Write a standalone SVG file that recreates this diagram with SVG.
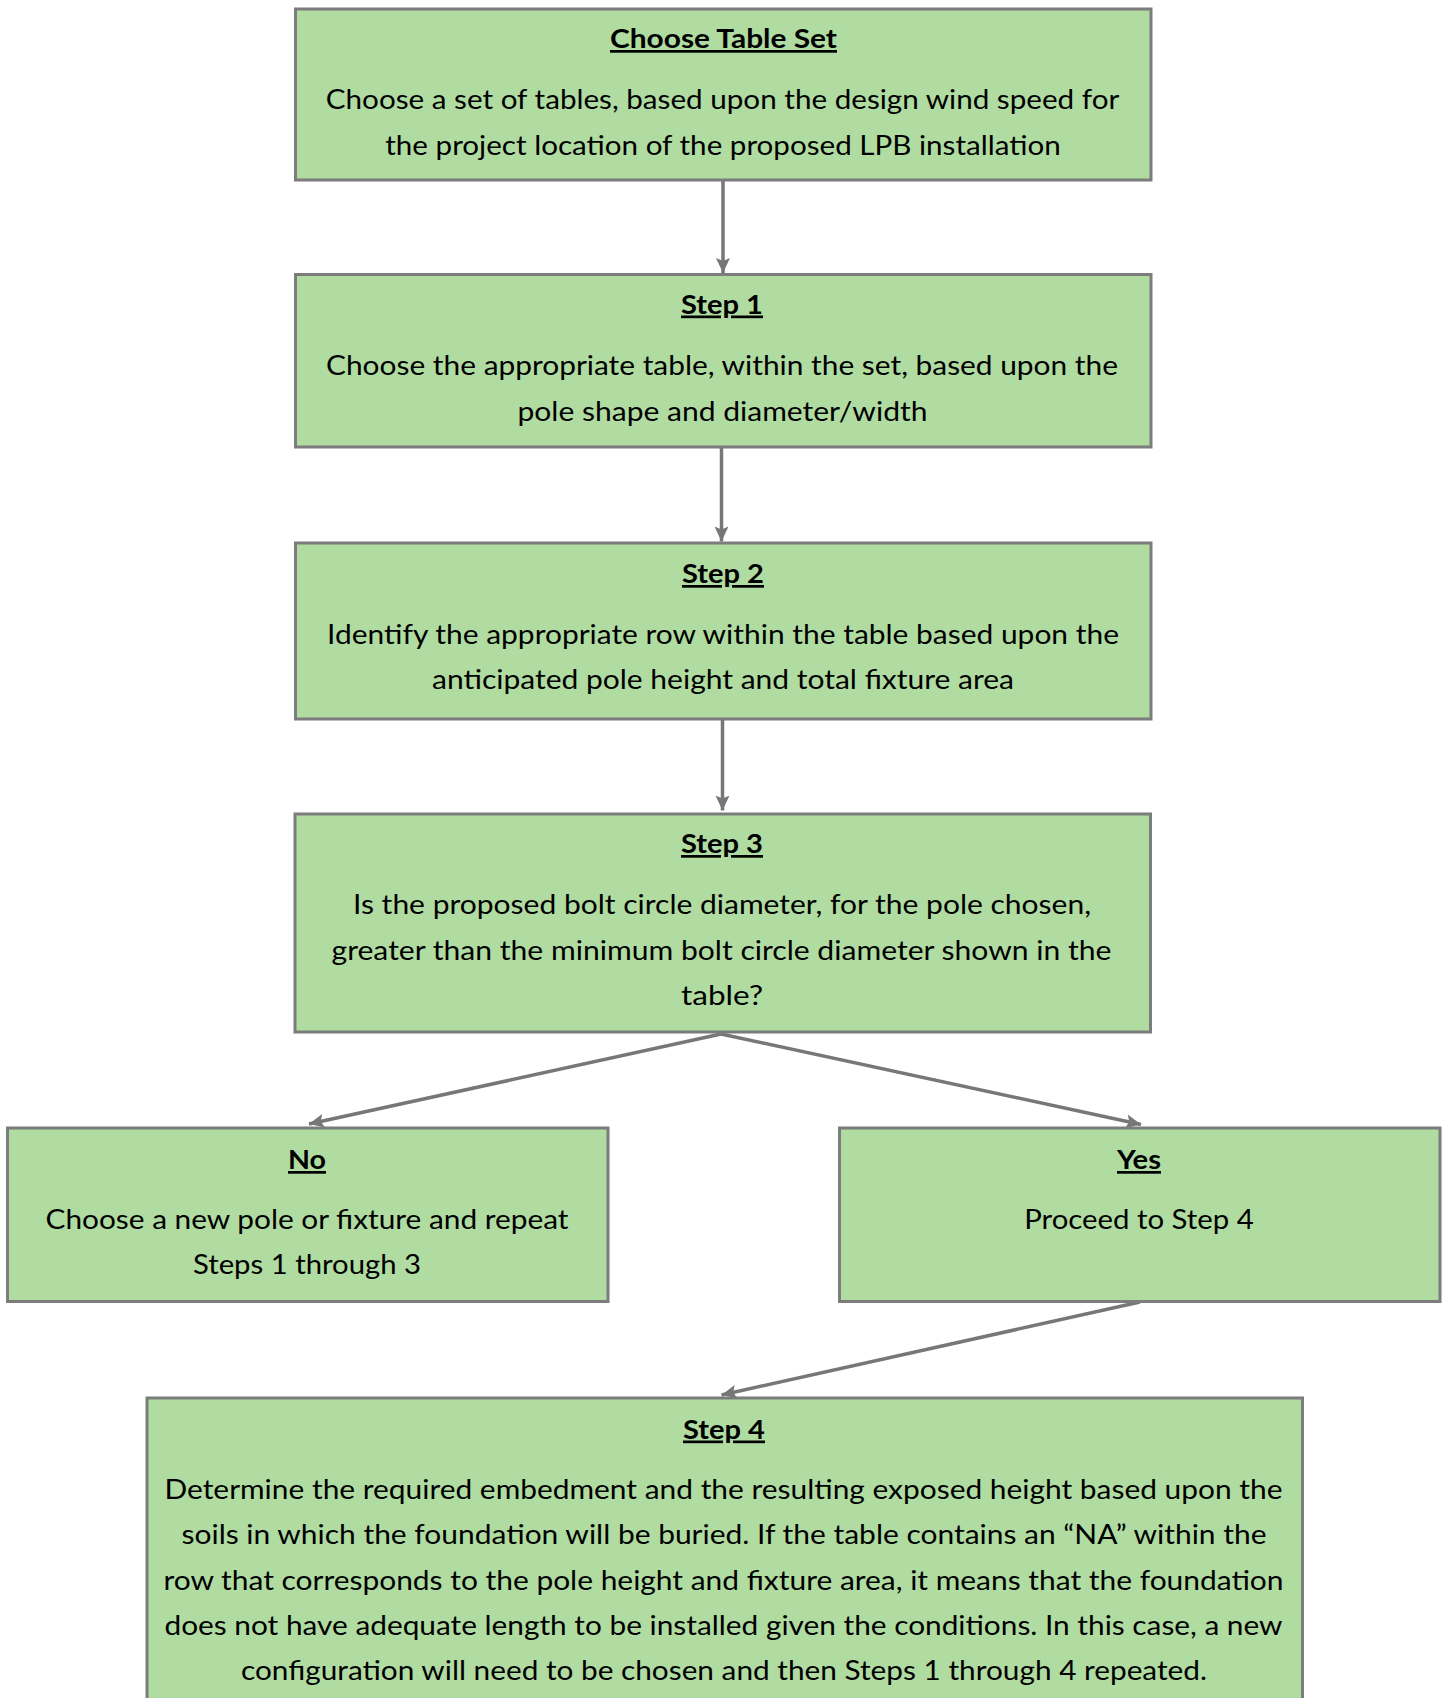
<svg xmlns="http://www.w3.org/2000/svg" width="1443" height="1698" viewBox="0 0 1443 1698">
<style>
.box{fill:#b0dca2;stroke:#7c7c7c;stroke-width:3}
.t{font-family:Lato,"Liberation Sans",sans-serif;font-size:27px;fill:#000;text-anchor:middle}
.h{font-weight:bold;text-decoration:underline}
.c{stroke:#777;stroke-width:3.5;fill:none;marker-end:url(#ah)}
</style>
<defs>
<marker id="ah" markerUnits="userSpaceOnUse" markerWidth="16" markerHeight="16" viewBox="0 0 16 16" refX="15" refY="8" orient="auto">
<path d="M0,1 L15,8 L0,15 L3,8 z" fill="#777"/>
</marker>
</defs>
<rect width="1443" height="1698" fill="#fff"/>
<g id="connectors">
<line class="c" x1="723" y1="180" x2="723" y2="273"/>
<line class="c" x1="721.5" y1="447" x2="721.5" y2="541.5"/>
<line class="c" x1="722.5" y1="719" x2="722.5" y2="810.5"/>
<line class="c" x1="721" y1="1034" x2="309" y2="1124"/>
<line class="c" x1="721" y1="1034" x2="1141" y2="1124.5"/>
<line class="c" x1="1140" y1="1302" x2="721.5" y2="1395"/>
</g>
<g id="choose-table-set">
<rect class="box" x="295.5" y="9" width="855.5" height="171"/>
<text class="t h" x="723.5" y="48" textLength="227" lengthAdjust="spacingAndGlyphs">Choose Table Set</text>
<text class="t" x="722.5" y="108.5" textLength="793.5" lengthAdjust="spacingAndGlyphs">Choose a set of tables, based upon the design wind speed for</text>
<text class="t" x="723" y="154.5" textLength="675.5" lengthAdjust="spacingAndGlyphs">the project location of the proposed LPB installation</text>
</g>
<g id="step1">
<rect class="box" x="295.5" y="274.5" width="855.5" height="172.5"/>
<text class="t h" x="722" y="313.5" textLength="82" lengthAdjust="spacingAndGlyphs">Step 1</text>
<text class="t" x="722" y="374.5" textLength="792" lengthAdjust="spacingAndGlyphs">Choose the appropriate table, within the set, based upon the</text>
<text class="t" x="722.5" y="420.5" textLength="410" lengthAdjust="spacingAndGlyphs">pole shape and diameter/width</text>
</g>
<g id="step2">
<rect class="box" x="295.5" y="543" width="855.5" height="176"/>
<text class="t h" x="723" y="583" textLength="82" lengthAdjust="spacingAndGlyphs">Step 2</text>
<text class="t" x="723" y="643.5" textLength="792" lengthAdjust="spacingAndGlyphs">Identify the appropriate row within the table based upon the</text>
<text class="t" x="723" y="689" textLength="582" lengthAdjust="spacingAndGlyphs">anticipated pole height and total fixture area</text>
</g>
<g id="step3">
<rect class="box" x="295" y="814" width="855.5" height="218"/>
<text class="t h" x="722" y="853" textLength="82" lengthAdjust="spacingAndGlyphs">Step 3</text>
<text class="t" x="722" y="914" textLength="738" lengthAdjust="spacingAndGlyphs">Is the proposed bolt circle diameter, for the pole chosen,</text>
<text class="t" x="721.5" y="959.5" textLength="780" lengthAdjust="spacingAndGlyphs">greater than the minimum bolt circle diameter shown in the</text>
<text class="t" x="722" y="1005" textLength="82" lengthAdjust="spacingAndGlyphs">table?</text>
</g>
<g id="no">
<rect class="box" x="7.5" y="1128" width="600.5" height="173.5"/>
<text class="t h" x="307" y="1169" textLength="38" lengthAdjust="spacingAndGlyphs">No</text>
<text class="t" x="307" y="1228.5" textLength="523" lengthAdjust="spacingAndGlyphs">Choose a new pole or fixture and repeat</text>
<text class="t" x="307" y="1274" textLength="228" lengthAdjust="spacingAndGlyphs">Steps 1 through 3</text>
</g>
<g id="yes">
<rect class="box" x="839.5" y="1128" width="600.5" height="173.5"/>
<text class="t h" x="1139" y="1169" textLength="44" lengthAdjust="spacingAndGlyphs">Yes</text>
<text class="t" x="1139" y="1228.5" textLength="229.5" lengthAdjust="spacingAndGlyphs">Proceed to Step 4</text>
</g>
<g id="step4">
<rect class="box" x="147" y="1398" width="1155.5" height="320"/>
<text class="t h" x="724" y="1438.5" textLength="82" lengthAdjust="spacingAndGlyphs">Step 4</text>
<text class="t" x="723.5" y="1498.5" textLength="1118" lengthAdjust="spacingAndGlyphs">Determine the required embedment and the resulting exposed height based upon the</text>
<text class="t" x="724" y="1544" textLength="1085" lengthAdjust="spacingAndGlyphs">soils in which the foundation will be buried. If the table contains an “NA” within the</text>
<text class="t" x="723.5" y="1589.5" textLength="1120" lengthAdjust="spacingAndGlyphs">row that corresponds to the pole height and fixture area, it means that the foundation</text>
<text class="t" x="723.5" y="1634.5" textLength="1118" lengthAdjust="spacingAndGlyphs">does not have adequate length to be installed given the conditions. In this case, a new</text>
<text class="t" x="724" y="1679.5" textLength="966" lengthAdjust="spacingAndGlyphs">configuration will need to be chosen and then Steps 1 through 4 repeated.</text>
</g>
</svg>
